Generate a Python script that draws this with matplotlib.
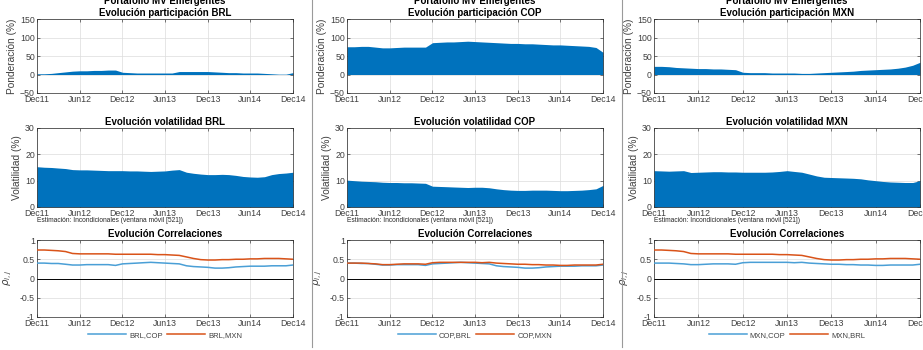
import matplotlib.pyplot as plt
import numpy as np
import pandas as pd
from matplotlib.lines import Line2D

plt.rcParams['font.family'] = ['Liberation Sans', 'DejaVu Sans']

# monthly samples, Dec 2011 .. Dec 2014
fechas = pd.date_range('2011-12-01', '2014-12-01', freq='MS')
tick_fechas = pd.date_range('2011-12-01', '2014-12-01', freq='6MS')
tick_labels = ['Dec11', 'Jun12', 'Dec12', 'Jun13', 'Dec13', 'Jun14', 'Dec14']

monedas = ['BRL', 'COP', 'MXN']

# weights (%)
peso_brl = [2, 2, 3, 5, 7, 9, 10, 10, 11, 11, 12, 12, 6, 5, 4, 4, 4, 4, 4, 4, 8, 8, 8, 8, 8,
            7, 6, 5, 5, 4, 4, 4, 3, 2, 1, 1, 5]
peso_cop = [75, 75, 76, 76, 74, 72, 72, 73, 74, 74, 74, 74, 86, 87, 88, 88, 89, 90, 89, 88, 87,
            86, 85, 84, 84, 83, 83, 82, 81, 80, 80, 79, 78, 77, 76, 73, 60]
peso_mxn = [22, 22, 21, 19, 18, 17, 16, 16, 15, 15, 14, 13, 6, 5, 5, 5, 4, 4, 4, 4, 3, 3, 4, 5,
            6, 7, 8, 9, 11, 12, 13, 14, 15, 17, 20, 25, 33]

# volatility (%)
vol_brl = [15.3, 15.1, 15.0, 14.8, 14.6, 14.2, 14.1, 14.1, 14.0, 13.9, 13.8, 13.8, 13.8, 13.7,
           13.7, 13.6, 13.5, 13.6, 13.7, 14.0, 14.2, 13.2, 12.8, 12.5, 12.3, 12.3, 12.4, 12.3,
           12.0, 11.6, 11.4, 11.3, 11.5, 12.3, 12.7, 12.9, 13.2]
vol_cop = [10.2, 10.0, 9.8, 9.7, 9.6, 9.4, 9.3, 9.3, 9.2, 9.2, 9.1, 9.0, 7.9, 7.8, 7.7, 7.6,
           7.5, 7.4, 7.5, 7.5, 7.3, 6.9, 6.6, 6.4, 6.3, 6.3, 6.4, 6.4, 6.4, 6.3, 6.2, 6.2, 6.3,
           6.4, 6.6, 6.9, 8.2]
vol_mxn = [13.8, 13.7, 13.6, 13.7, 13.8, 13.1, 13.2, 13.3, 13.4, 13.4, 13.3, 13.3, 13.2, 13.2,
           13.2, 13.2, 13.3, 13.5, 13.8, 13.5, 13.2, 12.5, 11.8, 11.3, 11.2, 11.1, 11.0, 10.9,
           10.7, 10.3, 10.0, 9.7, 9.5, 9.4, 9.3, 9.3, 10.0]

# rolling correlations
corr_brl_cop = [0.40, 0.40, 0.39, 0.39, 0.37, 0.35, 0.35, 0.36, 0.36, 0.36, 0.36, 0.34, 0.38,
                0.39, 0.40, 0.41, 0.42, 0.41, 0.40, 0.39, 0.38, 0.33, 0.31, 0.30, 0.29, 0.27,
                0.27, 0.28, 0.30, 0.31, 0.32, 0.32, 0.32, 0.33, 0.33, 0.33, 0.35]
corr_brl_mxn = [0.74, 0.74, 0.73, 0.72, 0.70, 0.65, 0.64, 0.64, 0.64, 0.64, 0.64, 0.63, 0.63,
                0.63, 0.63, 0.63, 0.63, 0.62, 0.62, 0.61, 0.60, 0.56, 0.52, 0.49, 0.48, 0.48,
                0.49, 0.49, 0.50, 0.50, 0.51, 0.51, 0.52, 0.52, 0.52, 0.51, 0.50]
corr_mxn_cop = [0.40, 0.40, 0.40, 0.39, 0.38, 0.36, 0.36, 0.37, 0.38, 0.38, 0.38, 0.37, 0.41,
                0.42, 0.42, 0.42, 0.42, 0.42, 0.42, 0.41, 0.42, 0.40, 0.39, 0.38, 0.37, 0.37,
                0.36, 0.36, 0.35, 0.35, 0.34, 0.34, 0.35, 0.35, 0.35, 0.35, 0.37]

pesos = [peso_brl, peso_cop, peso_mxn]
vols = [vol_brl, vol_cop, vol_mxn]
corrs = [
    (corr_brl_cop, corr_brl_mxn, 'BRL,COP', 'BRL,MXN'),
    (corr_brl_cop, corr_mxn_cop, 'COP,BRL', 'COP,MXN'),
    (corr_mxn_cop, corr_brl_mxn, 'MXN,COP', 'MXN,BRL'),
]

azul = '#0072BD'
azul_linea = '#4a9fd6'
naranja = '#D95319'
gris_txt = '#404040'

W, H = 923, 350
fig = plt.figure(figsize=(W / 100, H / 100), dpi=100)

col_x = [(37, 256), (347, 256), (654, 266)]
filas = [(19, 93), (128, 207), (240, 317)]


def eje(col, fila):
    x0, w = col_x[col]
    top, bot = filas[fila]
    return fig.add_axes([x0 / W, 1 - bot / H, w / W, (bot - top) / H])


def estilo(ax):
    ax.set_xlim(fechas[0], fechas[-1])
    ax.set_xticks(tick_fechas)
    ax.set_xticklabels(tick_labels)
    ax.tick_params(direction='in', top=True, right=True, labelsize=6.3, length=2.5,
                   width=0.5, colors=gris_txt, pad=1.5)
    ax.grid(True, color='#dcdcdc', linewidth=0.5)
    ax.set_axisbelow(True)
    for s in ax.spines.values():
        s.set_linewidth(0.5)
        s.set_color('#262626')


for i, mon in enumerate(monedas):
    # participacion
    ax = eje(i, 0)
    ax.fill_between(fechas, 0, pesos[i], color=azul, linewidth=0, zorder=2)
    ax.set_ylim(-50, 150)
    ax.set_yticks([-50, 0, 50, 100, 150])
    estilo(ax)
    ax.set_ylabel('Ponderación (%)', fontsize=7.3, color=gris_txt, labelpad=2)
    ax.set_title('Evolución participación ' + mon, fontsize=7, fontweight='bold', pad=2)
    x0, w = col_x[i]
    fig.text((x0 + w / 2) / W, 1 - 0.5 / H, 'Portafolio MV Emergentes', fontsize=7,
             fontweight='bold', ha='center', va='center')

    # volatilidad
    ax = eje(i, 1)
    ax.fill_between(fechas, 0, vols[i], color=azul, linewidth=0, zorder=2)
    ax.set_ylim(0, 30)
    ax.set_yticks([0, 10, 20, 30])
    estilo(ax)
    ax.set_ylabel('Volatilidad (%)', fontsize=7.3, color=gris_txt, labelpad=2)
    ax.set_title('Evolución volatilidad ' + mon, fontsize=7, fontweight='bold', pad=2)
    ax.text(0.0, -0.125, 'Estimación: Incondicionales (ventana móvil [521])',
            transform=ax.transAxes, fontsize=4.8, color='#262626', va='top', ha='left')

    # correlaciones
    ax = eje(i, 2)
    c1, c2, l1, l2 = corrs[i]
    ax.axhline(0, color='black', linewidth=0.7, zorder=2)
    ax.plot(fechas, c1, color=azul_linea, linewidth=1.1, label=l1, zorder=3)
    ax.plot(fechas, c2, color=naranja, linewidth=1.1, label=l2, zorder=3)
    ax.set_ylim(-1, 1)
    ax.set_yticks([-1, -0.5, 0, 0.5, 1])
    ax.set_yticklabels(['-1', '-0.5', '0', '0.5', '1'])
    estilo(ax)
    ax.set_ylabel(r'$\rho_{i,j}$', fontsize=7.3, color=gris_txt, labelpad=4)
    ax.set_title('Evolución Correlaciones', fontsize=7, fontweight='bold', pad=2)
    ax.legend(loc='upper center', bbox_to_anchor=(0.5, -0.10), ncol=2, frameon=False,
              fontsize=5.5, handlelength=5, columnspacing=0.6, handletextpad=0.4,
              labelcolor=gris_txt)

# separators between the three panels
for xs in (312, 622):
    fig.add_artist(Line2D([xs / W, xs / W], [1 - 347 / H, 1.0], color='#9a9a9a',
                          linewidth=0.8, transform=fig.transFigure))

fig.savefig('out.png', dpi=100)
